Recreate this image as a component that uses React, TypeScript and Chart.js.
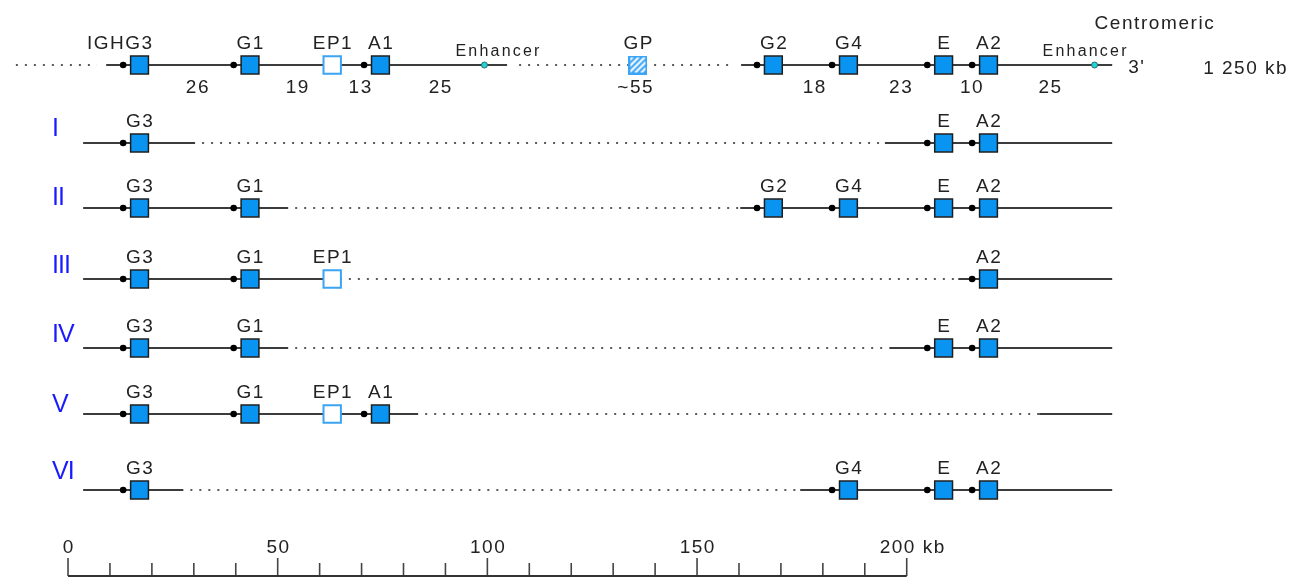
import React, { useEffect, useRef } from 'react';
import { Chart, registerables } from 'chart.js';

Chart.register(...registerables);

// Constant-region genes of the IGH locus (centre of each gene, kb along the ruler)
const GENE_NAMES = ['G3', 'G1', 'EP1', 'A1', 'GP', 'G2', 'G4', 'E', 'A2'];
const GENE_KB = [17.05, 43.4, 63.0, 74.5, 135.9, 168.2, 186.1, 208.8, 219.5];
const PSEUDOGENES = ['EP1'];
const HATCHED_GENES = ['GP'];
const ENHANCER_KB = [99.3, 244.8];

// Distances between neighbouring genes on the reference locus (kb)
const DISTANCE_LABELS = ['26', '19', '13', '25', '~55', '18', '23', '10', '25'];
const DISTANCE_KB = [30.8, 54.6, 69.6, 88.7, 135.2, 177.9, 198.5, 215.4, 234.1];

// Reference locus: drawn (solid) and compressed (dotted) stretches
const LOCUS_SOLID = [[9.1, 104.7], [160.5, 249.0]];
const LOCUS_DOTTED = [[-14.1, 6.9], [105.9, 158.6]];

// Deletion haplotypes: genes kept and retained DNA on each side of the deletion
const HAPLOTYPES = ['I', 'II', 'III', 'IV', 'V', 'VI'];
const HAPLOTYPE_GENES = [
  ['G3', 'E', 'A2'],
  ['G3', 'G1', 'G2', 'G4', 'E', 'A2'],
  ['G3', 'G1', 'EP1', 'A2'],
  ['G3', 'G1', 'E', 'A2'],
  ['G3', 'G1', 'EP1', 'A1'],
  ['G3', 'G4', 'E', 'A2'],
];
const HAPLOTYPE_SPANS = [
  [[3.6, 30.3], [194.8, 249.0]],
  [[3.6, 52.5], [160.3, 249.0]],
  [[3.6, 65.3], [212.3, 249.0]],
  [[3.6, 52.5], [196.0, 249.0]],
  [[3.6, 83.5], [231.6, 249.0]],
  [[3.6, 27.5], [174.6, 249.0]],
];

// Scale bar
const RULER_TICKS = [0, 10, 20, 30, 40, 50, 60, 70, 80, 90, 100, 110, 120, 130, 140, 150, 160, 170, 180, 190, 200];
const RULER_MAJOR = [0, 50, 100, 150, 200];
const RULER_LABELS = ['0', '50', '100', '150', '200 kb'];

// Layout (vertical units equal canvas pixels)
const X_MIN = -16.22;
const X_MAX = 294.5;
const Y_MAX = 577;
const TRACK_Y = [65, 143, 208, 279, 348, 414, 490];
const NUMERAL_BASELINE = [136, 205, 273, 342, 412, 479];
const RULER_Y = 576;
const SWITCH_OFFSET_KB = 3.9;
const ENHANCER_LABEL_SHIFT_KB = [3.1, -2.4];

const FONT = '"Liberation Sans", Arial, sans-serif';
const INK = '#222222';
const BOX_BLUE = '#0a94f2';
const LIGHT_BLUE = '#3ba4f4';

const kbOf = (g: string) => GENE_KB[GENE_NAMES.indexOf(g)];

const tracks = [
  { genes: GENE_NAMES, y: TRACK_Y[0] },
  ...HAPLOTYPES.map((_, i) => ({ genes: HAPLOTYPE_GENES[i], y: TRACK_Y[i + 1] })),
];

function hatchedBox(size: number) {
  const c = document.createElement('canvas');
  c.width = size;
  c.height = size;
  const g = c.getContext('2d')!;
  g.fillStyle = LIGHT_BLUE;
  g.fillRect(0, 0, size, size);
  g.save();
  g.beginPath();
  g.rect(2, 2, size - 4, size - 4);
  g.clip();
  g.strokeStyle = '#ffffff';
  g.lineWidth = 2;
  for (let k = -size; k < 2 * size; k += 6) {
    g.beginPath();
    g.moveTo(k, size);
    g.lineTo(k + size, 0);
    g.stroke();
  }
  g.restore();
  return c;
}

function segment(a: number, b: number, y: number, dotted: boolean) {
  return {
    data: [{ x: a, y }, { x: b, y }],
    showLine: true,
    borderColor: dotted ? '#5a5a5a' : '#3c3c3c',
    borderWidth: 2,
    borderDash: dotted ? [2, 7] : [],
    borderDashOffset: dotted ? 2 : 0,
    pointRadius: 0,
    order: 5,
  };
}

const labelsPlugin = {
  id: 'locusLabels',
  afterDatasetsDraw(chart: any) {
    const { ctx, scales } = chart;
    const xs = scales.x;
    const ys = scales.y;
    const px = (kb: number) => xs.getPixelForValue(kb);
    const py = (v: number) => ys.getPixelForValue(v);

    const write = (
      str: string, x: number, y: number,
      size: number, spacing: number, align: CanvasTextAlign = 'center', color = INK,
    ) => {
      ctx.font = `${size}px ${FONT}`;
      (ctx as any).letterSpacing = `${spacing}px`;
      ctx.fillStyle = color;
      ctx.textAlign = align;
      ctx.textBaseline = 'alphabetic';
      const shift = align === 'center' ? spacing / 2 : 0;
      ctx.fillText(str, x + shift, y);
    };

    ctx.save();

    // gene names above every box
    tracks.forEach((t, ti) => {
      t.genes.forEach((g) => {
        const x = px(kbOf(g));
        const y = py(t.y) - 16;
        if (ti === 0 && g === 'G3') {
          ctx.font = `19px ${FONT}`;
          (ctx as any).letterSpacing = '1.5px';
          const w = ctx.measureText('G3').width;
          write('IGHG3', x + w / 2, y, 19, 1.5, 'right');
        } else {
          write(g, x, y, 19, 1.5);
        }
      });
    });

    // distances under the reference locus
    DISTANCE_LABELS.forEach((s, i) => write(s, px(DISTANCE_KB[i]), py(TRACK_Y[0]) + 28, 19, 1.5));

    // enhancers
    ENHANCER_KB.forEach((kb, i) =>
      write('Enhancer', px(kb + ENHANCER_LABEL_SHIFT_KB[i]), py(TRACK_Y[0]) - 9, 16, 2.2));

    // locus ends
    write("3'", px(252.8), py(TRACK_Y[0]) + 8, 19, 1.5, 'left');
    write('1 250 kb', px(270.7), py(TRACK_Y[0]) + 9, 19, 1.5, 'left');
    write('Centromeric', px(259.0), 29, 19, 1.6);

    // haplotype numerals
    HAPLOTYPES.forEach((h, i) => write(h, px(-3.8), NUMERAL_BASELINE[i], 25, -1, 'left', '#1a1aff'));

    // scale bar labels
    RULER_MAJOR.forEach((kb, i) => {
      if (i === RULER_MAJOR.length - 1) {
        write(RULER_LABELS[i], px(kb) - 27, py(RULER_Y) - 23, 19, 1.5, 'left');
      } else {
        write(RULER_LABELS[i], px(kb), py(RULER_Y) - 23, 19, 1.5);
      }
    });

    ctx.restore();
  },
};

export default function App() {
  const canvasRef = useRef<HTMLCanvasElement | null>(null);

  useEffect(() => {
    const canvas = canvasRef.current;
    if (!canvas) return;

    const datasets: any[] = [];

    // gene boxes
    const plainGenes: any[] = [];
    const openGenes: any[] = [];
    const hatched: any[] = [];
    const switches: any[] = [];
    tracks.forEach((t) => {
      t.genes.forEach((g) => {
        const p = { x: kbOf(g), y: t.y };
        if (PSEUDOGENES.includes(g)) openGenes.push(p);
        else if (HATCHED_GENES.includes(g)) hatched.push(p);
        else plainGenes.push(p);
        if (!PSEUDOGENES.includes(g) && !HATCHED_GENES.includes(g)) {
          switches.push({ x: kbOf(g) - SWITCH_OFFSET_KB, y: t.y });
        }
      });
    });

    datasets.push({
      label: 'genes',
      data: plainGenes,
      pointStyle: 'rect',
      pointRadius: 12.6,
      backgroundColor: BOX_BLUE,
      borderColor: '#1e1e1e',
      borderWidth: 1.5,
      order: 0,
    });
    datasets.push({
      label: 'pseudogenes',
      data: openGenes,
      pointStyle: 'rect',
      pointRadius: 12.3,
      backgroundColor: '#ffffff',
      borderColor: LIGHT_BLUE,
      borderWidth: 2,
      order: 0,
    });
    datasets.push({
      label: 'GP',
      data: hatched,
      pointStyle: hatchedBox(19),
      order: 0,
    });
    datasets.push({
      label: 'switch regions',
      data: switches,
      pointStyle: 'circle',
      pointRadius: 3.3,
      backgroundColor: '#000000',
      borderWidth: 0,
      order: 1,
    });
    datasets.push({
      label: 'enhancers',
      data: ENHANCER_KB.map((kb) => ({ x: kb, y: TRACK_Y[0] })),
      pointStyle: 'circle',
      pointRadius: 3,
      backgroundColor: '#22d4d4',
      borderColor: '#2b6b6b',
      borderWidth: 1,
      order: 1,
    });

    // reference locus line
    LOCUS_SOLID.forEach(([a, b]) => datasets.push(segment(a, b, TRACK_Y[0], false)));
    LOCUS_DOTTED.forEach(([a, b]) => datasets.push(segment(a, b, TRACK_Y[0], true)));

    // haplotype lines: retained DNA solid, deleted stretch dotted
    HAPLOTYPE_SPANS.forEach((spans, i) => {
      const y = TRACK_Y[i + 1];
      spans.forEach(([a, b]) => datasets.push(segment(a, b, y, false)));
      for (let k = 0; k < spans.length - 1; k++) {
        datasets.push(segment(spans[k][1], spans[k + 1][0], y, true));
      }
    });

    // scale bar
    datasets.push({
      data: [{ x: RULER_TICKS[0], y: RULER_Y }, { x: RULER_TICKS[RULER_TICKS.length - 1], y: RULER_Y }],
      showLine: true,
      borderColor: '#333333',
      borderWidth: 2,
      pointRadius: 0,
      order: 4,
    });
    datasets.push({
      data: RULER_TICKS.filter((t) => !RULER_MAJOR.includes(t)).map((t) => ({ x: t, y: RULER_Y - 6.5 })),
      pointStyle: 'line',
      pointRotation: 90,
      pointRadius: 6.5,
      borderColor: '#444444',
      borderWidth: 1.6,
      order: 4,
    });
    datasets.push({
      data: RULER_MAJOR.map((t) => ({ x: t, y: RULER_Y - 9 })),
      pointStyle: 'line',
      pointRotation: 90,
      pointRadius: 9,
      borderColor: '#444444',
      borderWidth: 1.6,
      order: 4,
    });

    const chart = new Chart(canvas, {
      type: 'scatter',
      data: { datasets },
      options: {
        animation: false,
        responsive: true,
        maintainAspectRatio: false,
        events: [],
        layout: { padding: 0, autoPadding: false },
        scales: {
          x: { type: 'linear', min: X_MIN, max: X_MAX, display: false },
          y: { type: 'linear', min: 0, max: Y_MAX, reverse: true, display: false },
        },
        plugins: {
          legend: { display: false },
          tooltip: { enabled: false },
        },
      },
      plugins: [labelsPlugin],
    } as any);

    return () => chart.destroy();
  }, []);

  return (
    <div style={{ position: 'absolute', left: 0, top: 0, width: 1303, height: 577, background: '#ffffff' }}>
      <canvas ref={canvasRef} />
    </div>
  );
}
